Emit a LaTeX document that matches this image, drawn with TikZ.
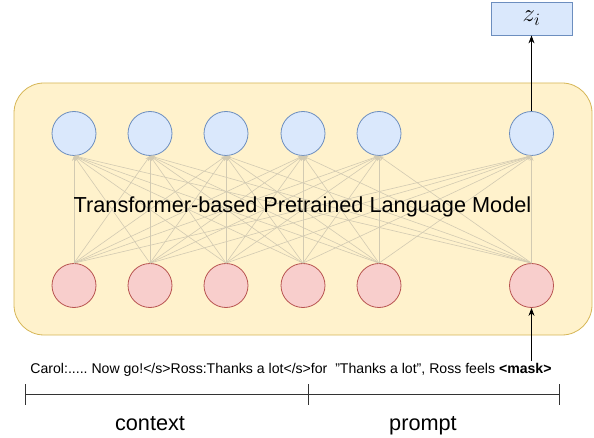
\documentclass[tikz,border=0pt]{standalone}
\usepackage{fontspec}
\setmainfont{Liberation Sans}
\usetikzlibrary{arrows.meta}
\frenchspacing
\definecolor{yfill}{HTML}{FFF2CC}
\definecolor{ydraw}{HTML}{D6B656}
\definecolor{bfill}{HTML}{DAE8FC}
\definecolor{bdraw}{HTML}{6C8EBF}
\definecolor{rfill}{HTML}{F8CECC}
\definecolor{rdraw}{HTML}{B85450}
\definecolor{lconn}{RGB}{210,202,178}
\begin{document}
\begin{tikzpicture}[x=1pt,y=-1pt,
  topn/.style={circle, draw=bdraw, fill=bfill, minimum size=44pt, inner sep=0pt, line width=0.8pt},
  botn/.style={circle, draw=rdraw, fill=rfill, minimum size=44pt, inner sep=0pt, line width=0.8pt},
  conn/.style={draw=lconn, line width=0.6pt, -{Stealth[length=5pt,width=4pt,fill=lconn]}},
  blk/.style={draw=black, line width=0.9pt, -{Stealth[length=8pt,width=6pt]}},
  brk/.style={draw=black!80, line width=0.9pt},
  lbl/.style={font=\fontsize{21.7}{24}\selectfont, inner sep=0pt, anchor=base}
]
\useasboundingbox (0,0) rectangle (594,438);
\node[draw=ydraw, fill=yfill, rounded corners=30pt, minimum width=578pt, minimum height=252pt, line width=0.8pt, inner sep=0pt] (model) at (303,209) {};
\foreach \i/\x in {1/74,2/150,3/226,4/303,5/379,6/531.5} {
  \node[topn] (t\i) at (\x,133.5) {};
  \node[botn] (b\i) at (\x,285.5) {};
}
\foreach \i in {1,...,6} {
  \foreach \j in {1,...,6} {
    \draw[conn] (b\i.north) -- (t\j.south);
  }
}
\node[font=\fontsize{21.7}{24}\selectfont, inner sep=0pt] (title) at (302.5,207) {Transformer-based Pretrained Language Model};
\node[draw=bdraw, fill=bfill, minimum width=81pt, minimum height=33pt, line width=0.8pt, inner sep=0pt, font=\fontsize{27}{29}\selectfont] (z) at (531.5,18.5) {$z_i$};
\draw[blk] (t6) -- (z);
\node[font=\fontsize{14.1}{16}\selectfont, inner sep=0pt, anchor=base] (txt) at (291,373) {Carol:..... Now go!</s>Ross:Thanks a lot</s>for\ \ "Thanks a lot", Ross feels \textbf{<mask>}};
\coordinate (in) at (531.5,361);
\draw[blk] (in) -- (b6);
\coordinate (L) at (25,394.5);
\coordinate (R) at (559,394.5);
\coordinate (Lt) at (25,384);
\coordinate (Lb) at (25,405);
\coordinate (Mt) at (308,384);
\coordinate (Mb) at (308,405);
\coordinate (Rt) at (559,384);
\coordinate (Rb) at (559,405);
\draw[brk] (L) -- (R);
\draw[brk] (Lt) -- (Lb);
\draw[brk] (Mt) -- (Mb);
\draw[brk] (Rt) -- (Rb);
\node[lbl] (ctx) at (150,430) {context};
\node[lbl] (pr) at (423,430) {prompt};
\end{tikzpicture}
\end{document}
